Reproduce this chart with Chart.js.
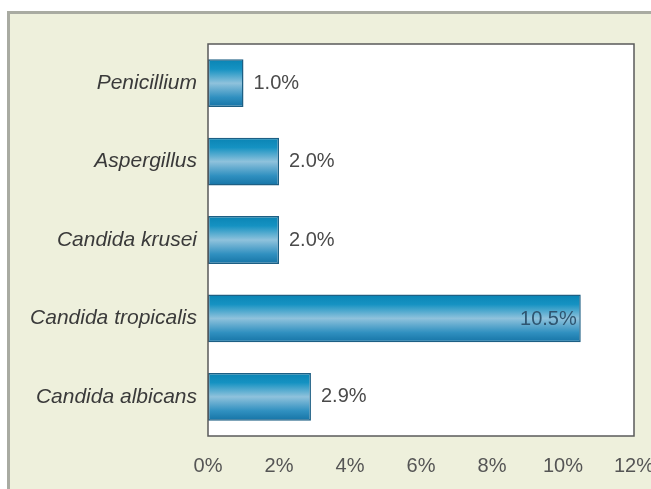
<!DOCTYPE html>
<html>
<head>
<meta charset="utf-8">
<script src="https://cdn.jsdelivr.net/npm/chart.js@4.4.0/dist/chart.umd.min.js"></script>
<style>
    html, body { margin: 0; padding: 0; background: #ffffff; }
    #frame {
        position: absolute; left: 7px; top: 11px; right: 0; bottom: 0;
        background: #eef0dc;
        border-left: 3px solid #a9aba2;
        border-top: 3px solid #a9aba2;
    }
    #wrap { position: absolute; left: 0; top: 0; width: 651px; height: 489px; }
</style>
</head>
<body>
<div id="frame"></div>
<div id="wrap"><canvas id="chart1" width="651" height="489"></canvas></div>
<script>
var species = ['Penicillium', 'Aspergillus', 'Candida krusei', 'Candida tropicalis', 'Candida albicans'];
var percents = [1.0, 2.0, 2.0, 10.5, 2.9];
var tickValues = [0, 2, 4, 6, 8, 10, 12];

// white plot box with dark border
var plotBox = {
    id: 'plotBox',
    beforeDatasetsDraw: function(chart) {
        var a = chart.chartArea, c = chart.ctx;
        c.save();
        c.fillStyle = '#ffffff';
        c.fillRect(a.left, a.top, a.right - a.left, a.bottom - a.top);
        c.restore();
    },
    afterDatasetsDraw: function(chart) {
        var a = chart.chartArea, c = chart.ctx;
        c.save();
        c.strokeStyle = '#5a5a5a';
        c.lineWidth = 1.5;
        c.strokeRect(a.left, a.top, a.right - a.left, a.bottom - a.top);
        c.restore();
    }
};

// percentage labels beside (or inside) each bar
var valueLabels = {
    id: 'valueLabels',
    afterDatasetsDraw: function(chart) {
        var c = chart.ctx;
        var meta = chart.getDatasetMeta(0);
        c.save();
        c.font = '20px Arial, "Liberation Sans", sans-serif';
        c.textBaseline = 'middle';
        meta.data.forEach(function(bar, i) {
            var txt = percents[i].toFixed(1) + '%';
            if (percents[i] > 8) {
                c.fillStyle = '#2f5570';
                c.textAlign = 'right';
                c.fillText(txt, bar.x - 4, bar.y + 1);
            } else {
                c.fillStyle = '#4a4a4a';
                c.textAlign = 'left';
                c.fillText(txt, bar.x + 10, bar.y);
            }
        });
        c.restore();
    }
};

function barGradient(ctx) {
    var chart = ctx.chart;
    var yScale = chart.scales.y;
    if (!yScale || !chart.chartArea) return '#1a8ac0';
    var cy = yScale.getPixelForValue(ctx.dataIndex);
    var half = (yScale.bottom - yScale.top) / species.length * 0.6 / 2;
    var g = chart.ctx.createLinearGradient(0, cy - half, 0, cy + half);
    g.addColorStop(0, '#0a84b4');
    g.addColorStop(0.2, '#1592c2');
    g.addColorStop(0.5, '#8fc2dc');
    g.addColorStop(0.8, '#3090c0');
    g.addColorStop(1, '#1674a6');
    return g;
}

function makeSpeciesChart(labels, values) {
    var ctx1 = document.getElementById('chart1').getContext('2d');
    var chart1 = new Chart(ctx1, {
        type: 'bar',
        data: {
            labels: labels,
            datasets: [{
                data: values,
                backgroundColor: barGradient,
                borderColor: '#1d5f84',
                borderWidth: 1.5,
                borderSkipped: false,
                categoryPercentage: 1.0,
                barPercentage: 0.61
            }]
        },
        options: {
            indexAxis: 'y',
            responsive: false,
            animation: false,
            layout: { padding: { left: 0, top: 44, right: 17, bottom: 0 } },
            plugins: {
                legend: { display: false },
                tooltip: { enabled: false },
                title: { display: false }
            },
            scales: {
                x: {
                    min: 0,
                    max: 12,
                    afterBuildTicks: function(scale) {
                        scale.ticks = tickValues.map(function(v) { return { value: v }; });
                    },
                    afterFit: function(scale) {
                        scale.height = 53;
                        scale.paddingLeft = 0;
                        scale.paddingRight = 0;
                    },
                    grid: { display: false, drawTicks: false },
                    border: { display: false },
                    ticks: {
                        padding: 18,
                        color: '#555555',
                        font: { family: 'Arial, "Liberation Sans", sans-serif', size: 20 },
                        callback: function(v) { return v + '%'; }
                    }
                },
                y: {
                    afterFit: function(scale) { scale.width = 208; },
                    grid: { display: false, drawTicks: false },
                    border: { display: false },
                    ticks: {
                        padding: 11,
                        color: '#3a3a3a',
                        font: { family: 'Arial, "Liberation Sans", sans-serif', size: 21, style: 'italic' }
                    }
                }
            }
        },
        plugins: [plotBox, valueLabels]
    });
}

window.onload = function() {
    makeSpeciesChart(species, percents);
};
</script>
</body>
</html>
